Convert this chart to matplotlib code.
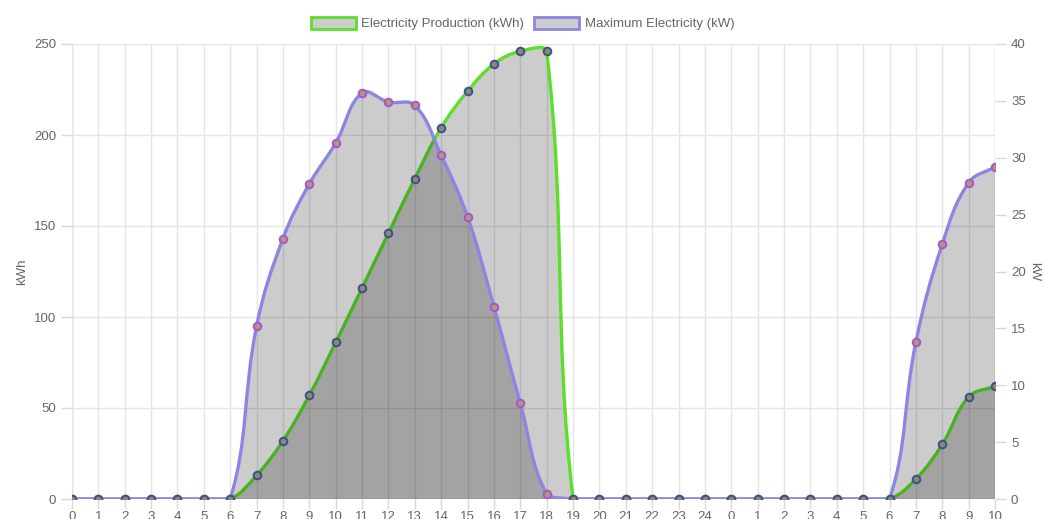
import numpy as np
import matplotlib.pyplot as plt
from matplotlib.path import Path
from matplotlib.patches import PathPatch, Patch

plt.rcParams['font.family'] = ['Liberation Sans', 'DejaVu Sans']

# eixo x: horas de dois dias
horas = [str(h) for h in range(0, 25)] + [str(h) for h in range(0, 11)]

# Electricity Production (kWh) - eixo esquerdo
producao = [0, 0, 0, 0, 0, 0, 0,
            13, 32, 57, 86, 116, 146, 176, 204, 224, 239, 246, 246,
            0, 0, 0, 0, 0, 0,
            0, 0, 0, 0, 0, 0, 0,
            11, 30, 56, 62]

# Maximum Electricity (kW) - eixo direito
maximo = [0, 0, 0, 0, 0, 0, 0,
          15.2, 22.9, 27.7, 31.3, 35.7, 34.9, 34.6, 30.2, 24.8, 16.9, 8.4, 0.45,
          0, 0, 0, 0, 0, 0,
          0, 0, 0, 0, 0, 0, 0,
          13.8, 22.4, 27.8, 29.2]

verde = '#5be02a'
roxo = '#8c86e2'
cinza_txt = '#666666'


def curva(xs, ys, px_x, px_y, tensao=0.4, ymax=None):
    # curva bezier no estilo Chart.js (tension 0.4)
    xs = np.asarray(xs, float)
    ys = np.asarray(ys, float)
    n = len(xs)
    cps = []
    for i in range(n):
        p = (xs[max(i - 1, 0)], ys[max(i - 1, 0)])
        c = (xs[i], ys[i])
        q = (xs[min(i + 1, n - 1)], ys[min(i + 1, n - 1)])
        d01 = np.hypot((c[0] - p[0]) * px_x, (c[1] - p[1]) * px_y)
        d12 = np.hypot((q[0] - c[0]) * px_x, (q[1] - c[1]) * px_y)
        tot = d01 + d12
        s01 = d01 / tot if tot else 0
        s12 = d12 / tot if tot else 0
        fa, fb = tensao * s01, tensao * s12
        prev_cp = (c[0] - fa * (q[0] - p[0]), c[1] - fa * (q[1] - p[1]))
        next_cp = (c[0] + fb * (q[0] - p[0]), c[1] + fb * (q[1] - p[1]))
        if ymax is not None:
            prev_cp = (prev_cp[0], min(max(prev_cp[1], 0), ymax))
            next_cp = (next_cp[0], min(max(next_cp[1], 0), ymax))
        cps.append((prev_cp, next_cp))
    verts = [(xs[0], ys[0])]
    codes = [Path.MOVETO]
    for i in range(1, n):
        verts += [cps[i - 1][1], cps[i][0], (xs[i], ys[i])]
        codes += [Path.CURVE4] * 3
    return verts, codes


fig = plt.figure(figsize=(10.45, 5.19), dpi=100)
ax = fig.add_axes([72 / 1045, 20 / 519, 923 / 1045, 455 / 519])
ax2 = ax.twinx()

x = np.arange(len(horas))
dx = 923 / (len(horas) - 1)

# producao (eixo esquerdo)
v, c = curva(x, producao, dx, 455 / 250, ymax=250)
linha = Path(v, c)
fill = Path(v + [(x[-1], 0), (x[0], 0), v[0]], c + [Path.LINETO, Path.LINETO, Path.CLOSEPOLY])
ax.add_patch(PathPatch(fill, facecolor=(0, 0, 0, 0.2), edgecolor='none', zorder=1))
ax.add_patch(PathPatch(linha, facecolor='none', edgecolor=verde, lw=2.4, zorder=3))

# maximo (eixo direito)
v2, c2 = curva(x, maximo, dx, 455 / 40, ymax=40)
linha2 = Path(v2, c2)
fill2 = Path(v2 + [(x[-1], 0), (x[0], 0), v2[0]], c2 + [Path.LINETO, Path.LINETO, Path.CLOSEPOLY])
ax2.add_patch(PathPatch(fill2, facecolor=(0, 0, 0, 0.2), edgecolor='none', zorder=1))
ax2.add_patch(PathPatch(linha2, facecolor='none', edgecolor=roxo, lw=2.4, zorder=2))

# pontos (producao convertida para a escala do eixo direito so para desenhar por cima)
prod_dir = np.array(producao) * 40 / 250
ax2.scatter(x, maximo, s=30, facecolor='#b09a6c', edgecolor='#a555d8', linewidth=1.4, zorder=4)
ax2.scatter(x, prod_dir, s=30, facecolor='#8a8a6a', edgecolor='#3d4e92', linewidth=1.4, zorder=5)

ax.set_xlim(0, len(horas) - 1)
ax.set_ylim(0, 250)
ax2.set_ylim(0, 40)
ax.set_xticks(x)
ax.set_xticklabels(horas)
ax.set_yticks(range(0, 251, 50))
ax2.set_yticks(range(0, 41, 5))

ax.grid(True, color='#e5e5e5', lw=1)
ax.set_axisbelow(True)
for a in (ax, ax2):
    for s in a.spines.values():
        s.set_visible(False)
    a.tick_params(colors='#d8d8d8', labelcolor=cinza_txt, labelsize=9.5, length=8, width=1)
ax.tick_params(axis='x', pad=2, length=7)
ax.axvline(0, color='#d0d0d0', lw=1, zorder=0)
ax.axvline(len(horas) - 1, color='#d0d0d0', lw=1, zorder=0)
ax.axhline(0, color='#d0d0d0', lw=1, zorder=0)

ax.set_ylabel('kWh', color=cinza_txt, fontsize=9.5, labelpad=4)
ax2.set_ylabel('kW', color=cinza_txt, fontsize=9.5, rotation=-90, labelpad=10)

handles = [Patch(facecolor='#cccccc', edgecolor=verde, lw=2),
           Patch(facecolor='#cccccc', edgecolor=roxo, lw=2)]
fig.legend(handles, ['Electricity Production (kWh)', 'Maximum Electricity (kW)'],
           loc='upper center', bbox_to_anchor=(0.5, 0.99), ncol=2, frameon=False,
           fontsize=9.5, labelcolor=cinza_txt, handlelength=3.4, handleheight=1.0,
           handletextpad=0.4, columnspacing=0.8)

fig.savefig('out.png', dpi=100)
